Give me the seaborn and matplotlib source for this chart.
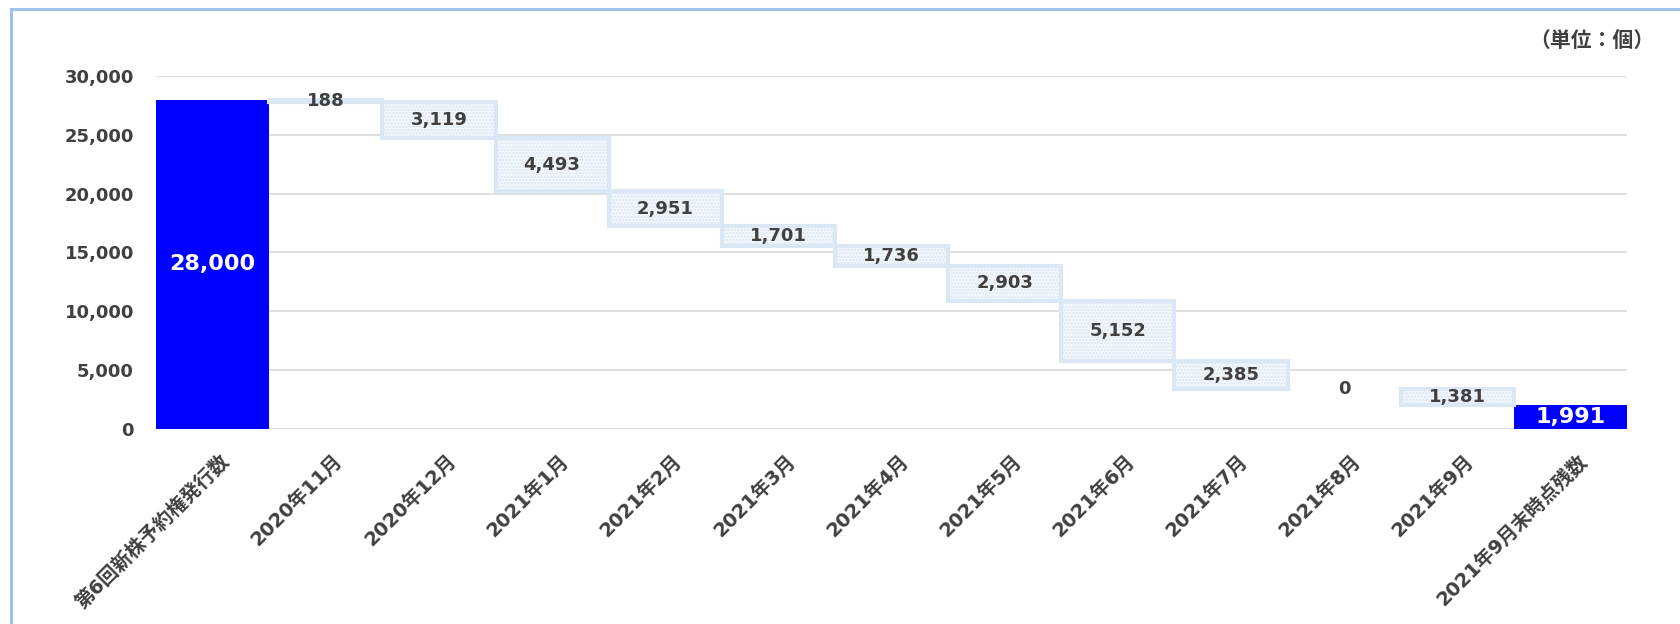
import numpy as np
import pandas as pd
import matplotlib
matplotlib.use("Agg")
import matplotlib.pyplot as plt
import seaborn as sns
from matplotlib.patches import Rectangle
from matplotlib.transforms import ScaledTranslation

categories = ["第6回新株予約権発行数", "2020年11月", "2020年12月", "2021年1月", "2021年2月",
              "2021年3月", "2021年4月", "2021年5月", "2021年6月", "2021年7月",
              "2021年8月", "2021年9月", "2021年9月末時点残数"]
issued = 28000
changes = [188, 3119, 4493, 2951, 1701, 1736, 2903, 5152, 2385, 0, 1381]
remaining = 1991
yticks = [0, 5000, 10000, 15000, 20000, 25000, 30000]

levels = issued - np.cumsum(changes)

df_total = pd.DataFrame({"category": [categories[0], categories[-1]],
                         "value": [issued, remaining]})
df_change = pd.DataFrame({"category": categories[1:-1],
                          "height": changes,
                          "bottom": levels})

sns.set_style("white")
plt.rcParams["font.family"] = ["DejaVu Sans", "Noto Sans CJK JP"]
plt.rcParams["hatch.linewidth"] = 1.2
text_color = "#404040"

fig = plt.figure(figsize=(16.8, 6.24), dpi=100)
ax = fig.add_axes([0.0929, 0.3128, 0.8756, 0.5654])

sns.barplot(data=df_total, x="category", y="value", order=categories, color="#0000FF",
            saturation=1, width=1.0, errorbar=None, linewidth=0, ax=ax)
sns.barplot(data=df_change, x="category", y="height", order=categories,
            bottom=df_change["bottom"].values, color="#f4f8fc", edgecolor="#dbe7f4",
            linewidth=3, hatch=".....", saturation=1, width=1.0, errorbar=None, ax=ax)

for p in ax.patches:
    if p.get_height() == 0:
        p.set_visible(False)

# value labels
for i, (h, b) in enumerate(zip(changes, levels), start=1):
    ax.text(i, b + h / 2, f"{h:,}", ha="center", va="center", fontsize=13,
            fontweight="bold", color=text_color)
ax.text(0, issued / 2, f"{issued:,}", ha="center", va="center", fontsize=16,
        fontweight="bold", color="white")
ax.text(len(categories) - 1, remaining / 2, f"{remaining:,}", ha="center", va="center",
        fontsize=16, fontweight="bold", color="white")

ax.set_ylim(0, 30000)
ax.set_yticks(yticks)
ax.set_yticklabels([f"{v:,}" for v in yticks])
ax.yaxis.grid(True, color="#d9d9d9", linewidth=1.2)
ax.set_axisbelow(True)
for s in ax.spines.values():
    s.set_visible(False)
ax.set_xlabel("")
ax.set_ylabel("")
ax.tick_params(axis="both", length=0, colors=text_color)
ax.tick_params(axis="y", pad=16, labelsize=13)
ax.tick_params(axis="x", pad=16, labelsize=14)
for lab in ax.get_yticklabels():
    lab.set_fontweight("bold")
offset = ScaledTranslation(0.07, 0, fig.dpi_scale_trans)
for lab in ax.get_xticklabels():
    lab.set_rotation(45)
    lab.set_ha("right")
    lab.set_va("top")
    lab.set_rotation_mode("anchor")
    lab.set_fontweight("bold")
    lab.set_transform(lab.get_transform() + offset)

fig.text(0.985, 0.936, "（単位：個）", ha="right", va="center", fontsize=15,
         fontweight="bold", color=text_color, family=["Noto Sans CJK JP", "DejaVu Sans"])

fig.patches.append(Rectangle((11 / 1680, -0.5), 2, 0.5 + 1 - 9 / 624, transform=fig.transFigure,
                             fill=False, edgecolor="#9dc3e6", linewidth=2.2))

fig.savefig("out.png", dpi=100)
